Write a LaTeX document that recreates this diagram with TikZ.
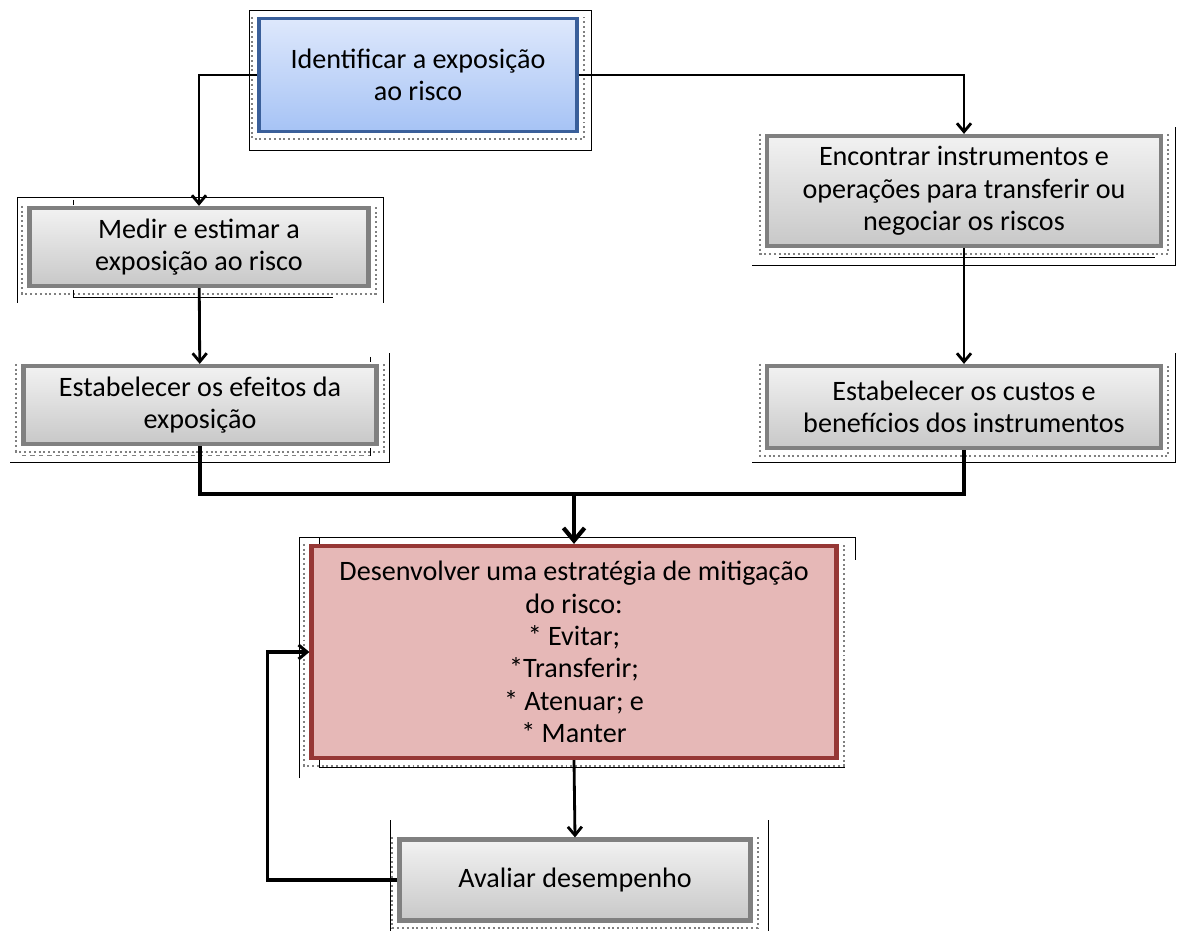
\documentclass[tikz,border=0pt]{standalone}
\usepackage{fontspec}
\setmainfont{Carlito}
\usepackage{tikz}
\usetikzlibrary{arrows.meta, backgrounds}

\definecolor{blueline}{RGB}{58,95,154}
\definecolor{bluetop}{RGB}{222,232,252}
\definecolor{bluebot}{RGB}{166,195,245}
\definecolor{grayline}{RGB}{128,128,128}
\definecolor{graytop}{RGB}{242,242,242}
\definecolor{graybot}{RGB}{200,200,200}
\definecolor{redline}{RGB}{150,55,53}
\definecolor{redfill}{RGB}{230,184,183}

\begin{document}
\begin{tikzpicture}[
        x=0.025cm, y=-0.025cm,
        basebox/.style={line width=3pt, align=center, font=\fontsize{20}{23}\selectfont, inner sep=2pt},
        stepbox/.style={basebox, draw=grayline, top color=graytop, bottom color=graybot},
        startbox/.style={basebox, draw=blueline, line width=2.4pt, top color=bluetop, bottom color=bluebot},
        plan/.style={basebox, draw=redline, fill=redfill},
        link/.style={line width=2pt, ->},
        frame/.style={line width=0.6pt},
        dots/.style={draw=gray, dotted, line width=1.4pt},
        >={Straight Barb[length=6pt, width=10pt]}]

    \useasboundingbox (0,0) rectangle (1182,931);

    % --- boxes ---
    \node[startbox, minimum width=318*0.025cm, minimum height=113*0.025cm] (ident) at (418,75)
        {Identificar a exposição\\ao risco};
    \node[stepbox, minimum width=339*0.025cm, minimum height=78*0.025cm] (medir) at (199,247)
        {Medir e estimar a\\exposição ao risco};
    \node[stepbox, minimum width=353*0.025cm, minimum height=78*0.025cm] (efeitos) at (200,405)
        {Estabelecer os efeitos da\\exposição};
    \node[stepbox, minimum width=394*0.025cm, minimum height=110*0.025cm] (encontrar) at (964,191)
        {Encontrar instrumentos e\\operações para transferir ou\\negociar os riscos};
    \node[stepbox, minimum width=394*0.025cm, minimum height=82*0.025cm] (custos) at (964,407)
        {Estabelecer os custos e\\benefícios dos instrumentos};
    \node[plan, minimum width=525*0.025cm, minimum height=212*0.025cm] (estrategia) at (574,652)
        {Desenvolver uma estratégia de mitigação\\do risco:\\* Evitar;\\*Transferir;\\* Atenuar; e\\* Manter};
    \node[stepbox, minimum width=351*0.025cm, minimum height=81*0.025cm] (avaliar) at (575,880)
        {Avaliar desempenho};

    % --- dotted shadows and thin frames ---
    \begin{pgfonlayer}{background}
        \foreach \n in {ident, medir, efeitos, encontrar, custos, estrategia, avaliar}
            \draw[dots] ([shift={(-3.5pt,0pt)}]\n.north west) -- ([shift={(-3.5pt,-4pt)}]\n.south west)
                -- ([shift={(3.5pt,-4pt)}]\n.south east) -- ([shift={(3.5pt,0pt)}]\n.north east);
        \draw[frame] (249,10) rectangle (591,150);
        \draw[frame] (17,303) -- (17,197) -- (383,197) -- (383,303);
        \draw[frame] (73,200) -- (73,205) (73,290) -- (73,297) -- (333,297);
        \draw[frame] (752,265) -- (1175,265) -- (1175,127);
        \draw[frame] (779,257) -- (1155,257);
        \draw[frame] (752,462) -- (1175,462) -- (1175,353);
        \draw[frame] (10,462) -- (389,462) -- (389,353);
        \draw[frame] (370,357) -- (370,362) (370,448) -- (370,456);
        \draw[frame, gray, dashed, line width=0.4pt] (22,455) -- (370,455);
        \draw[frame] (299,778) -- (299,537) -- (855,537) -- (855,560);
        \draw[frame] (319,537) -- (319,545) (319,760) -- (319,767) -- (845,767);
        \draw[frame] (390,820) -- (390,931) (768,820) -- (768,931);
    \end{pgfonlayer}

    % --- connectors ---
    \draw[link] (ident.west) -| (medir.north);
    \draw[link] (ident.east) -| (encontrar.north);
    \draw[link] (medir) -- (efeitos);
    \draw[link] (encontrar) -- (custos);

    \coordinate (merge) at (574,494);
    \draw[line width=2.2pt] (efeitos.south) |- (merge);
    \draw[line width=2.2pt] (custos.south) |- (merge);
    \draw[line width=3pt, -{Straight Barb[length=9pt, width=15pt]}] (merge) -- (estrategia.north);

    \draw[link] (estrategia.south) -- (avaliar.north);
    \draw[line width=2.2pt, ->] (avaliar.west) -- ++(-130,0) |- (estrategia.west);

\end{tikzpicture}
\end{document}
